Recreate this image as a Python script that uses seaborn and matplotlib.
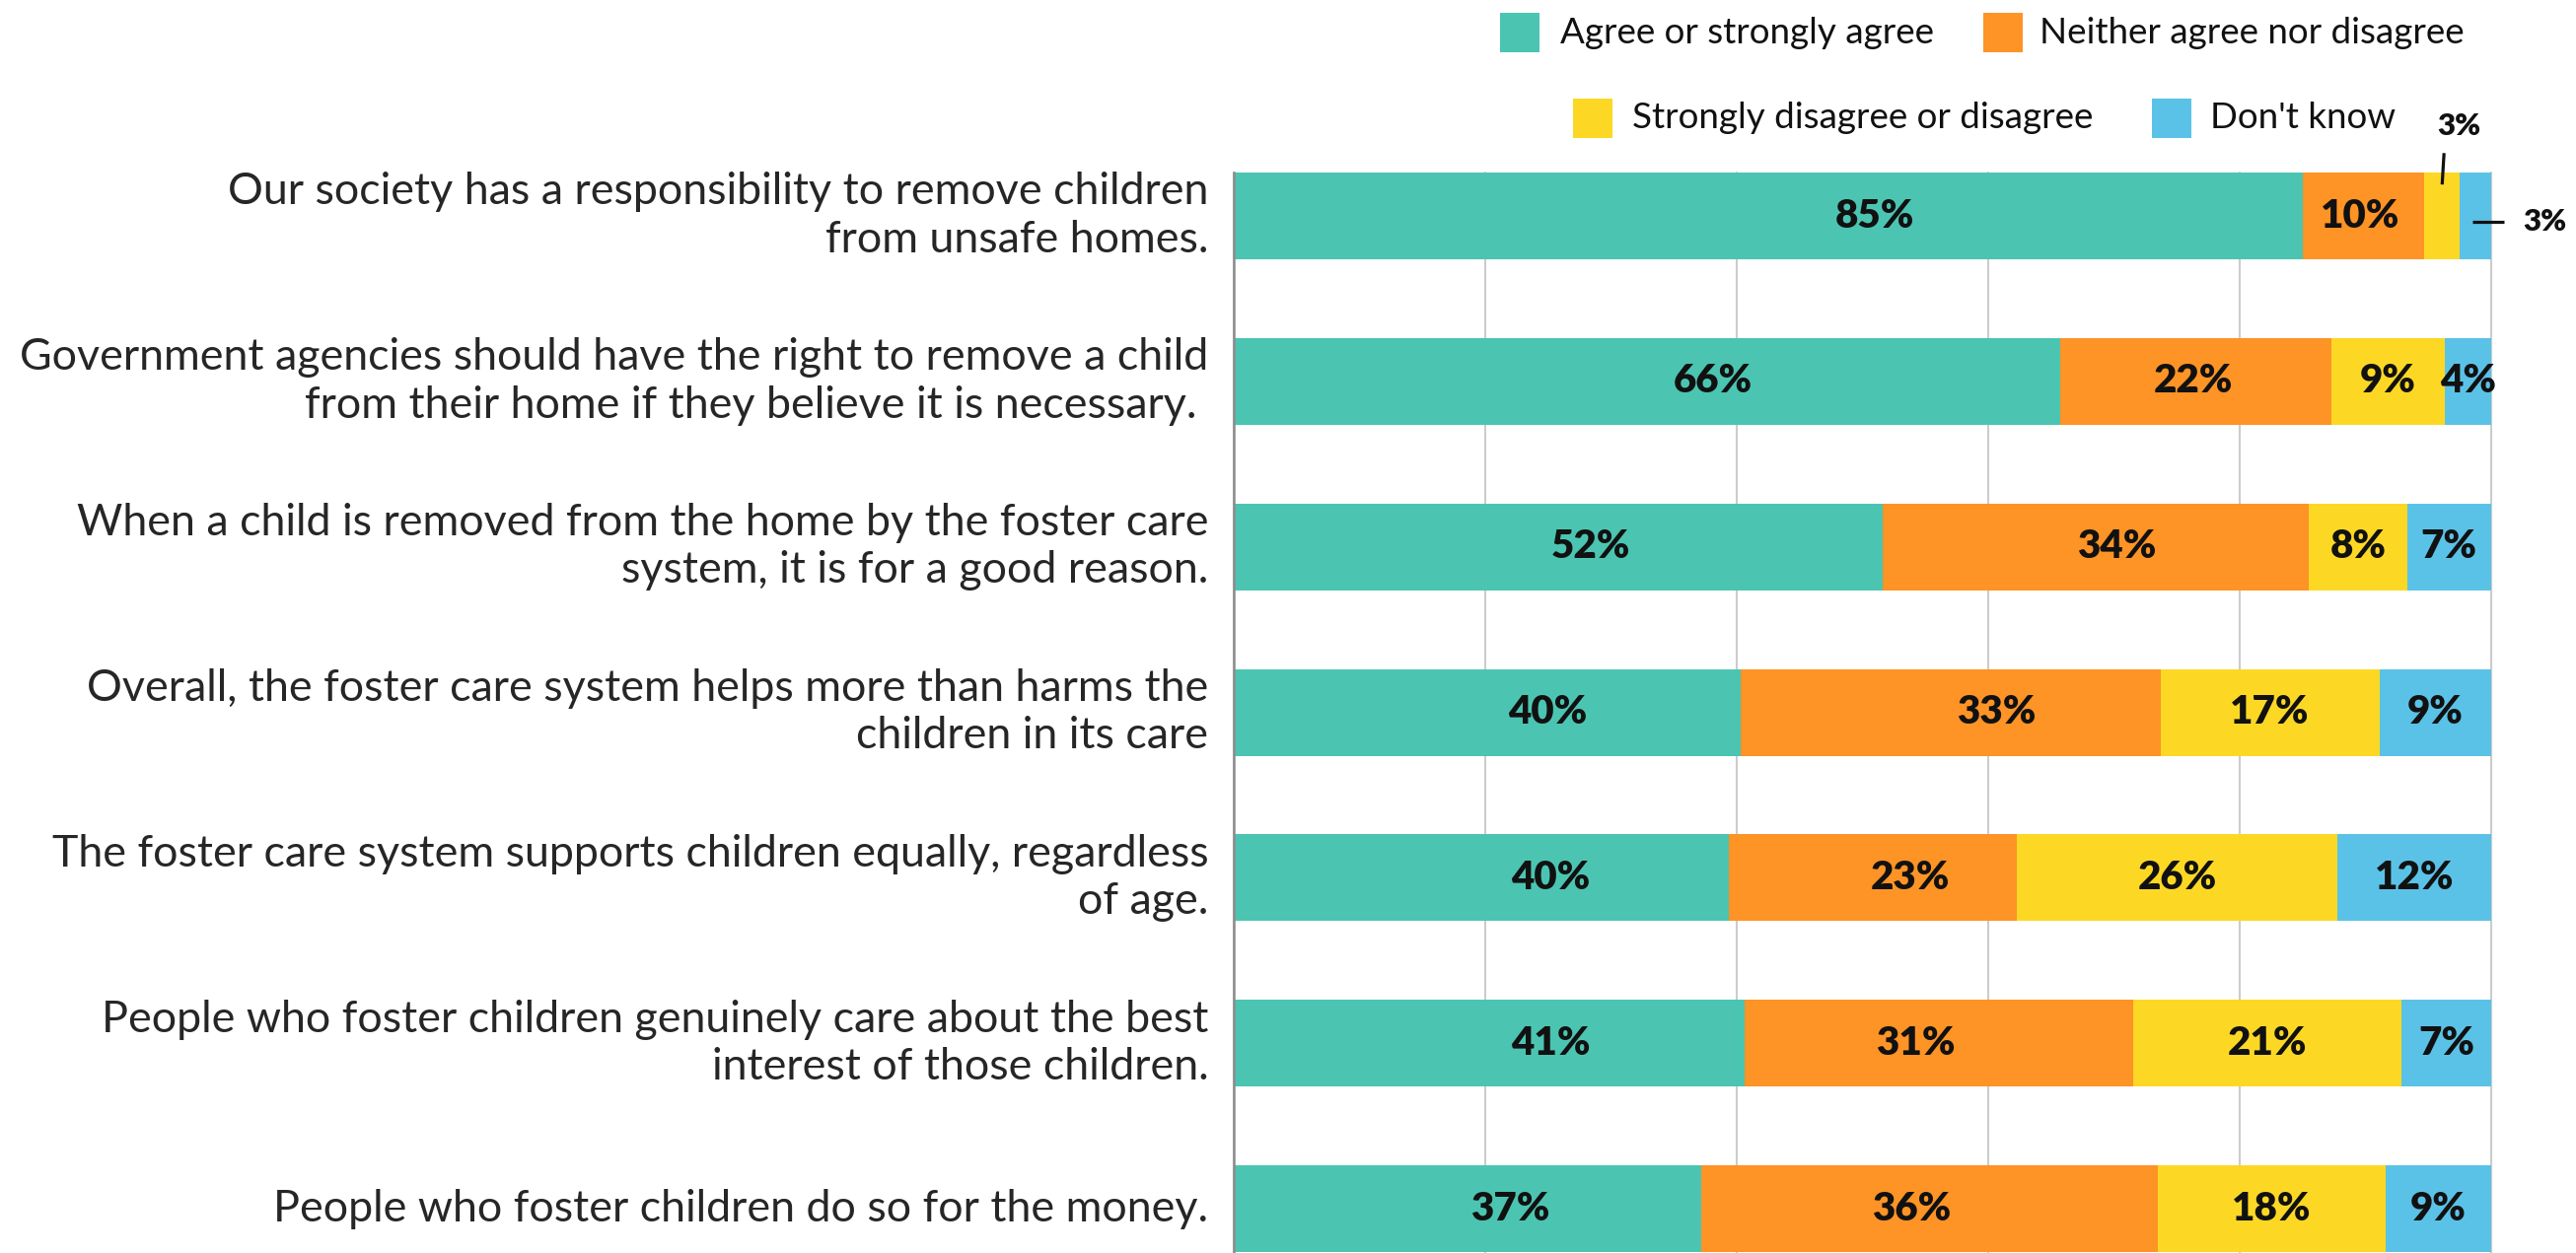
import matplotlib
matplotlib.use("Agg")
import matplotlib.pyplot as plt
import seaborn as sns
import numpy as np
from matplotlib.patches import Rectangle

# ---------------- data ----------------
categories = [
    "Our society has a responsibility to remove children\nfrom unsafe homes.",
    "Government agencies should have the right to remove a child\nfrom their home if they believe it is necessary. ",
    "When a child is removed from the home by the foster care\nsystem, it is for a good reason.",
    "Overall, the foster care system helps more than harms the\nchildren in its care",
    "The foster care system supports children equally, regardless\nof age.",
    "People who foster children genuinely care about the best\ninterest of those children.",
    "People who foster children do so for the money.",
]
series_names = ["Agree or strongly agree", "Neither agree nor disagree",
                "Strongly disagree or disagree", "Don't know"]
agree    = [85.0, 65.7, 51.6, 40.3, 39.4, 40.6, 37.2]
neither  = [9.7, 21.6, 33.9, 33.4, 22.9, 30.9, 36.3]
disagree = [2.8, 9.0, 7.8, 17.4, 25.5, 21.4, 18.1]
dontknow = [2.5, 3.7, 6.7, 8.9, 12.2, 7.1, 8.4]
agree_lbl    = ["85%", "66%", "52%", "40%", "40%", "41%", "37%"]
neither_lbl  = ["10%", "22%", "34%", "33%", "23%", "31%", "36%"]
disagree_lbl = ["3%", "9%", "8%", "17%", "26%", "21%", "18%"]
dontknow_lbl = ["3%", "4%", "7%", "9%", "12%", "7%", "9%"]

# ---------------- style ----------------
colors = ["#4bc5b1", "#fe9326", "#fcd825", "#5bc2e7"]
# where, inside each segment, the value label sits (fraction of segment width)
label_frac = [
    [0.60, 0.58, 0.55, 0.62, 0.64, 0.62, 0.59],
    [0.47, 0.49, 0.55, 0.61, 0.63, 0.44, 0.46],
    [0.5] * 7,
    [0.5] * 7,
]

W, H = 2612, 1271
DPI = 100
fig = plt.figure(figsize=(W / DPI, H / DPI), dpi=DPI)
sns.set_style("white")
plt.rcParams["font.family"] = ["Lato", "DejaVu Sans"]

ax = fig.add_axes([1251 / W, 0.0, 1275 / W, 1 - 175 / H])

values = [agree, neither, disagree, dontknow]
labels = [agree_lbl, neither_lbl, disagree_lbl, dontknow_lbl]
vals = np.array(values)
cum = np.cumsum(vals, axis=0)
starts = cum - vals

bar_w = 0.525
# draw from the longest cumulative segment to the shortest so they stack visually
for k in range(3, -1, -1):
    sns.barplot(x=cum[k], y=categories, order=categories, orient="h",
                color=colors[k], saturation=1, width=bar_w, ax=ax,
                edgecolor="none", linewidth=0, zorder=3)

n = len(categories)
ax.set_xlim(0, 100)
ax.set_ylim(n - 1 + bar_w / 2 + 0.005, -bar_w / 2)

ax.set_xticks([0, 20, 40, 60, 80, 100])
ax.set_xticklabels([])
ax.tick_params(axis="x", length=0)
ax.tick_params(axis="y", length=0, pad=18.5)
ax.grid(axis="x", color="#cccccc", linewidth=1.5, zorder=0)
ax.set_axisbelow(True)
for g in ax.get_xgridlines():
    g.set_clip_on(False)
ax.set_xlabel("")
ax.set_ylabel("")
for s in ["top", "right", "bottom"]:
    ax.spines[s].set_visible(False)
ax.spines["left"].set_color("#8c8c8c")
ax.spines["left"].set_linewidth(1.8)
ax.spines["left"].set_zorder(5)

for t in ax.get_yticklabels():
    t.set_fontsize(32.2)
    t.set_family(["Lato", "DejaVu Sans"])
    t.set_horizontalalignment("right")
    t.set_verticalalignment("center")
    t.set_linespacing(1.22)

# value labels
for k in range(4):
    for i in range(n):
        if i == 0 and k >= 2:
            continue
        x = starts[k][i] + vals[k][i] * label_frac[k][i]
        ax.text(x, i, labels[k][i], ha="center", va="center",
                fontsize=29, fontweight="heavy", color="#111111", zorder=6)

# call-outs for the tiny segments of the first bar
cy = starts[2][0] + vals[2][0] / 2
ax.plot([cy + 0.15, cy], [-0.38, -0.19], color="#111111", lw=2.3,
        clip_on=False, zorder=7, solid_capstyle="butt")
ax.text(cy + 1.35, -0.54, disagree_lbl[0], ha="center", va="center",
        fontsize=22.5, fontweight="heavy", color="#111111", clip_on=False)
cb = starts[3][0] + vals[3][0] / 2
ax.plot([cb - 0.25, cb + 2.25], [0.036, 0.036], color="#111111", lw=2.3,
        clip_on=False, zorder=7, solid_capstyle="butt")
ax.text(cb + 3.8, 0.036, dontknow_lbl[0], ha="left", va="center",
        fontsize=22.5, fontweight="heavy", color="#111111", clip_on=False)

# legend (two centred rows)
leg_items = [
    (1521, 33, 1582, 0), (2011, 33, 2068, 1),
    (1595, 120, 1655, 2), (2182, 120, 2241, 3),
]
sq = 40
for (xs, yc, xt, k) in leg_items:
    fig.patches.append(Rectangle((xs / W, 1 - (yc + sq / 2) / H), sq / W, sq / H,
                                 transform=fig.transFigure, facecolor=colors[k],
                                 edgecolor="none"))
    fig.text(xt / W, 1 - yc / H, series_names[k], ha="left", va="center",
             fontsize=26.5, color="#111111")

fig.savefig("out.png", dpi=DPI, facecolor="white")
